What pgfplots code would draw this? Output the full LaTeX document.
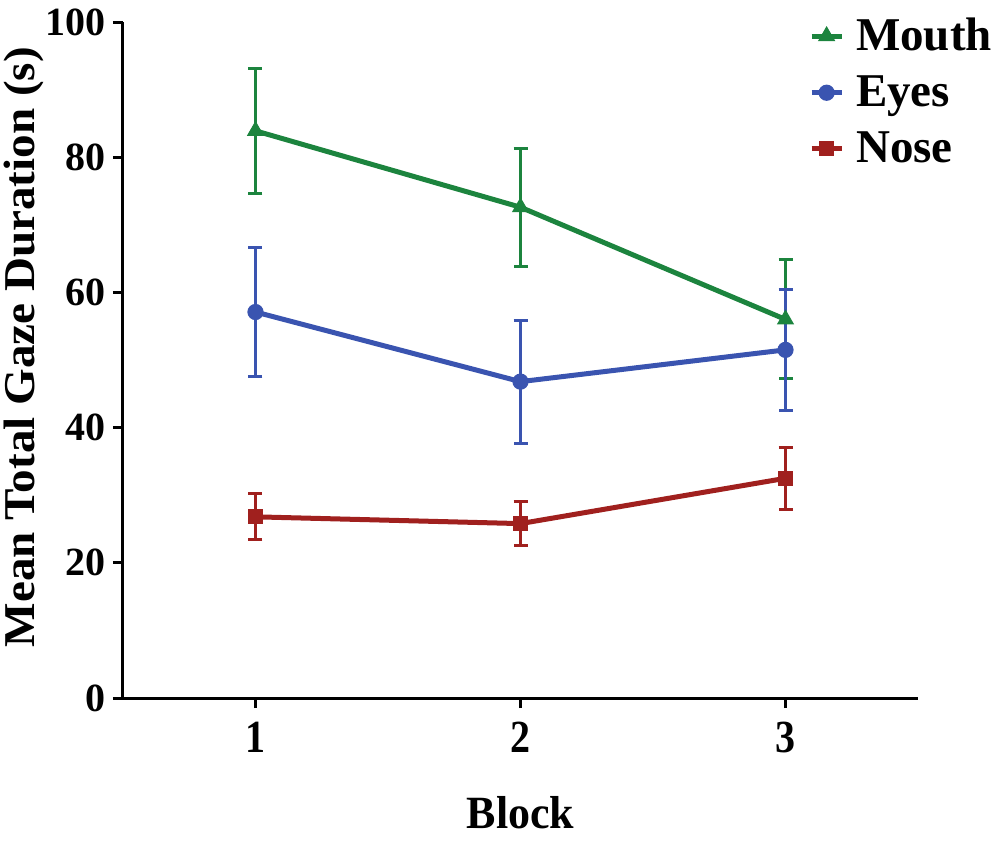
\documentclass[border=0pt]{standalone}
\usepackage{fontspec}
\setmainfont{Liberation Serif}
\usepackage{pgfplots}
\pgfplotsset{compat=1.18}
\definecolor{cgreen}{RGB}{28,132,62}
\definecolor{cblue}{RGB}{58,84,176}
\definecolor{cred}{RGB}{160,32,30}
\begin{document}
\begin{tikzpicture}
\begin{axis}[
  scale only axis,
  width=397.5pt, height=338pt,
  xmin=0.5, xmax=3.5, ymin=0, ymax=100,
  axis x line*=bottom, axis y line*=left,
  axis line style={line width=1.5pt, -},
  xtick={1,2,3}, ytick={0,20,40,60,80,100},
  tick style={line width=1.5pt, black},
  tick align=outside,
  major tick length=5pt,
  /pgf/number format/assume math mode=true,
  ticklabel style={font=\fontsize{20}{24}\selectfont\bfseries},
  xticklabel style={yshift=-3pt, yscale=1.15},
  xlabel={Block}, ylabel={\resizebox{300pt}{\height}{Mean Total Gaze Duration (s)}},
  label style={font=\fontsize{22}{26}\selectfont\bfseries},
  xlabel style={yshift=-14pt, yscale=1.05},
  ylabel style={at={(axis description cs:-0.1245,0.519)}, anchor=center},
  legend style={draw=none, fill=none, at={(0.855,1.018)}, anchor=north west,
    font=\fontsize{23.5}{28}\selectfont\bfseries, row sep=7pt,
    /tikz/every odd column/.append style={column sep=4pt}},
  legend cell align=left,
  legend image code/.code={\draw[#1, line width=2.5pt] (0pt,0pt) -- (15pt,0pt); \draw[#1, mark repeat=1, mark phase=1] plot coordinates {(7.5pt,0pt)};},
  clip=false,
]
\addplot[cgreen, line width=2.5pt, mark=triangle*, mark size=4.5pt, mark options={solid, line width=0.5pt},
  error bars/.cd, y dir=both, y explicit,
  error bar style={line width=1.5pt, cgreen},
  error mark options={rotate=90, mark size=3.5pt, line width=1.5pt, cgreen}]
  coordinates {(1,83.9) +- (0,9.2) (2,72.6) +- (0,8.7) (3,56.0) +- (0,8.8)};
\addlegendentry{Mouth}
\addplot[cblue, line width=2.5pt, mark=*, mark size=3.8pt, mark options={solid, line width=0.5pt},
  error bars/.cd, y dir=both, y explicit,
  error bar style={line width=1.5pt, cblue},
  error mark options={rotate=90, mark size=3.5pt, line width=1.5pt, cblue}]
  coordinates {(1,57.1) +- (0,9.5) (2,46.8) +- (0,9.1) (3,51.5) +- (0,9.0)};
\addlegendentry{Eyes}
\addplot[cred, line width=2.5pt, mark=square*, mark size=3.5pt, mark options={solid, line width=0.5pt},
  error bars/.cd, y dir=both, y explicit,
  error bar style={line width=1.5pt, cred},
  error mark options={rotate=90, mark size=3.5pt, line width=1.5pt, cred}]
  coordinates {(1,26.8) +- (0,3.4) (2,25.8) +- (0,3.2) (3,32.5) +- (0,4.6)};
\addlegendentry{Nose}
\end{axis}
\pgfresetboundingbox
\path[use as bounding box] (current axis.south west) ++(-61.5pt,-72pt) rectangle ++(500pt,421pt);
\end{tikzpicture}
\end{document}
